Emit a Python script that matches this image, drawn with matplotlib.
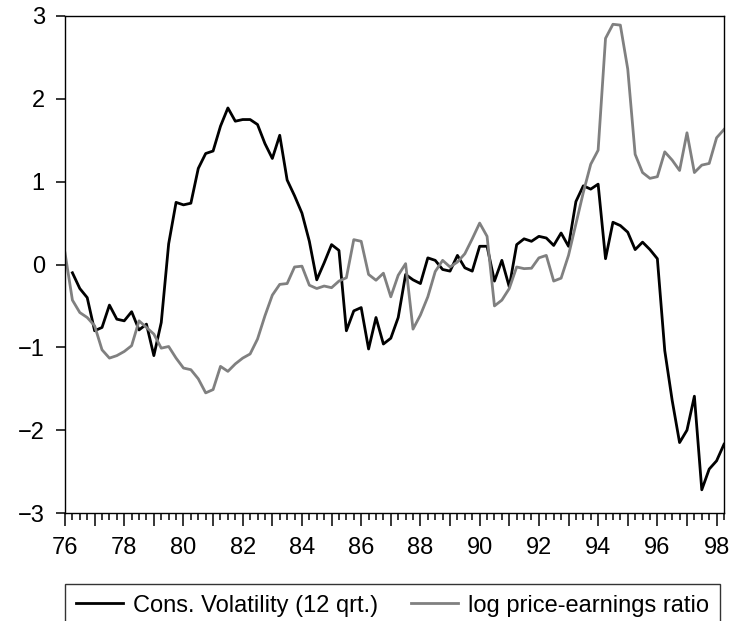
import matplotlib.pyplot as plt
import numpy as np
from matplotlib.ticker import FixedLocator

plt.rcParams['font.family'] = ['Liberation Sans', 'DejaVu Sans']

# quarterly observations, x axis in two-digit years
START_VOL = 76.25
START_PE = 76.0

cons_volatility = [
    -0.10, -0.29, -0.40,
    -0.80, -0.76, -0.49, -0.66,
    -0.68, -0.57, -0.79, -0.72,
    -1.10, -0.70, 0.25, 0.75,
    0.72, 0.74, 1.16, 1.34,
    1.37, 1.67, 1.89, 1.73,
    1.75, 1.75, 1.69, 1.46,
    1.28, 1.56, 1.02, 0.83,
    0.62, 0.28, -0.185, 0.02,
    0.24, 0.17, -0.80, -0.56,
    -0.52, -1.02, -0.64, -0.96,
    -0.89, -0.64, -0.12, -0.185,
    -0.23, 0.08, 0.05, -0.06,
    -0.08, 0.11, -0.04, -0.08,
    0.22, 0.22, -0.20, 0.05,
    -0.27, 0.24, 0.31, 0.28,
    0.34, 0.32, 0.23, 0.38,
    0.22, 0.76, 0.95, 0.91,
    0.97, 0.07, 0.51, 0.47,
    0.39, 0.18, 0.27, 0.18,
    0.07, -1.04, -1.64, -2.15,
    -2.00, -1.59, -2.72, -2.47,
    -2.37, -2.17,
]

log_pe_ratio = [
    0.14, -0.43, -0.58, -0.64,
    -0.74, -1.03, -1.13, -1.10,
    -1.05, -0.98, -0.68, -0.76,
    -0.84, -1.01, -0.99, -1.13,
    -1.25, -1.27, -1.38, -1.55,
    -1.51, -1.23, -1.29, -1.20,
    -1.13, -1.08, -0.90, -0.62,
    -0.37, -0.24, -0.23, -0.03,
    -0.02, -0.25, -0.29, -0.26,
    -0.28, -0.20, -0.16, 0.30,
    0.28, -0.12, -0.19, -0.105,
    -0.39, -0.13, 0.01, -0.78,
    -0.61, -0.39, -0.085, 0.05,
    -0.03, 0.03, 0.13, 0.31,
    0.50, 0.34, -0.50, -0.43,
    -0.29, -0.03, -0.05, -0.045,
    0.08, 0.11, -0.20, -0.165,
    0.11, 0.49, 0.87, 1.21,
    1.38, 2.73, 2.90, 2.89,
    2.36, 1.33, 1.11, 1.04,
    1.06, 1.36, 1.26, 1.135,
    1.59, 1.11, 1.20, 1.22,
    1.53, 1.63,
]

years = list(range(76, 99))
y_ticks = [-3, -2, -1, 0, 1, 2, 3]

t_vol = START_VOL + np.arange(len(cons_volatility)) / 4
t_pe = START_PE + np.arange(len(log_pe_ratio)) / 4

fig = plt.figure(figsize=(7.31, 6.21), dpi=100)
ax = fig.add_axes([65 / 731, 1 - 513 / 621, 659 / 731, 497 / 621])

ax.plot(t_vol, cons_volatility, color='black', lw=2.0,
        label='Cons. Volatility (12 qrt.)')
ax.plot(t_pe, log_pe_ratio, color='#808080', lw=2.0,
        label='log price-earnings ratio')

ax.set_xlim(76, 98.25)
ax.set_ylim(-3, 3)
ax.set_xticks(years)
ax.set_xticklabels([str(y) if y % 2 == 0 else '' for y in years])
quarters = [q / 4 for q in range(76 * 4, 98 * 4 + 2) if q % 4 != 0]
ax.xaxis.set_minor_locator(FixedLocator(quarters))
ax.set_yticks(y_ticks)

for s in ax.spines.values():
    s.set_linewidth(1.0)

ax.tick_params(axis='x', which='major', direction='out', length=9, width=1.1,
               labelsize=17, pad=8)
ax.tick_params(axis='x', which='minor', direction='out', length=5, width=1.1)
ax.tick_params(axis='y', which='major', direction='out', length=6.5, width=1.1,
               labelsize=17, pad=8)

leg = fig.legend(loc='upper left', ncol=2, mode='expand',
                 bbox_to_anchor=(65 / 731, 0, 655 / 731, 1 - 584 / 621),
                 fontsize=17, frameon=True, fancybox=False, edgecolor='black',
                 handlelength=2.0, handletextpad=0.45, borderpad=0.45,
                 columnspacing=1.4, borderaxespad=0)
leg.get_frame().set_linewidth(1.0)
for line in leg.get_lines():
    line.set_linewidth(2.0)

fig.savefig('out.png', dpi=100)
